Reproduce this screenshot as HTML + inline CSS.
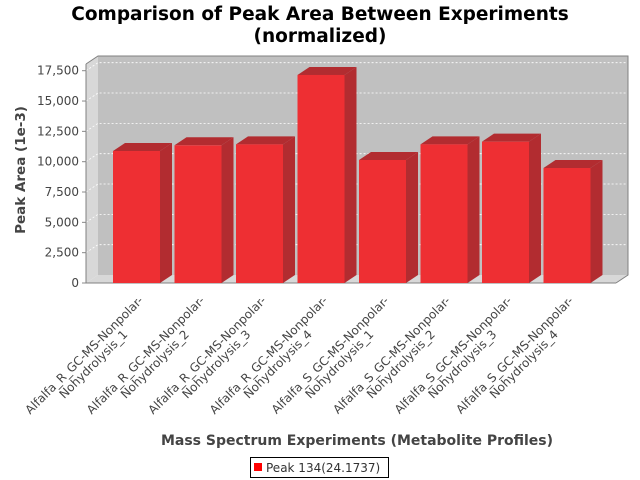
<!DOCTYPE html>
<html><head><meta charset="utf-8"><style>
html,body{margin:0;padding:0;background:#fff;}
svg{display:block;font-family:"DejaVu Sans","Liberation Sans",sans-serif;}
</style></head><body>
<svg id="chart" width="640" height="480" viewBox="0 0 640 480">
<text x="320" y="20" text-anchor="middle" font-size="18.5" font-weight="bold" fill="#000">Comparison of Peak Area Between Experiments</text>
<text x="320" y="42" text-anchor="middle" font-size="18.5" font-weight="bold" fill="#000">(normalized)</text>
<g id="plot"></g>
<text transform="translate(25,170) rotate(-90)" text-anchor="middle" font-size="13.5" font-weight="bold" fill="#444">Peak Area (1e-3)</text>
<text x="357" y="445" text-anchor="middle" font-size="14" font-weight="bold" fill="#444">Mass Spectrum Experiments (Metabolite Profiles)</text>
<g>
<rect x="250.5" y="457.5" width="138" height="20" fill="#fff" stroke="#000"/>
<rect x="254" y="463" width="8" height="8" fill="#ff0000"/>
<text x="266" y="472" font-size="12" fill="#333">Peak 134(24.1737)</text>
</g>
</svg>
<script>
const categories = ["Alfalfa_R_GC-MS-Nonpolar-|Nohydrolysis_1","Alfalfa_R_GC-MS-Nonpolar-|Nohydrolysis_2","Alfalfa_R_GC-MS-Nonpolar-|Nohydrolysis_3","Alfalfa_R_GC-MS-Nonpolar-|Nohydrolysis_4","Alfalfa_S_GC-MS-Nonpolar-|Nohydrolysis_1","Alfalfa_S_GC-MS-Nonpolar-|Nohydrolysis_2","Alfalfa_S_GC-MS-Nonpolar-|Nohydrolysis_3","Alfalfa_S_GC-MS-Nonpolar-|Nohydrolysis_4"];
const values = [10880, 11350, 11430, 17150, 10140, 11430, 11650, 9480];
const ticks = [0, 2500, 5000, 7500, 10000, 12500, 15000, 17500];
const tickLabels = ["0","2,500","5,000","7,500","10,000","12,500","15,000","17,500"];

const NS = "http://www.w3.org/2000/svg";
const g = document.getElementById("plot");
const X0 = 86, X1 = 616, Y0 = 283, YTOP = 64, DX = 12, DY = -8;
const yMax = 17500, yMaxPx = 70.7;
function y(v){ return Y0 - v * (Y0 - yMaxPx) / yMax; }
const step = 61.5, firstLeft = 113, barW = 47;
function xLeft(i){ return firstLeft + i * step; }
function mk(tag, attrs){ const e = document.createElementNS(NS, tag); for (const k in attrs) e.setAttribute(k, attrs[k]); g.appendChild(e); return e; }

let e;
e = mk("polygon", {points:`${X0},${YTOP} ${X0+DX},${YTOP+DY} ${X0+DX},${Y0+DY} ${X0},${Y0}`, fill:"#d8d8d8"});


e = mk("polygon", {points:`${X0},${Y0} ${X0+DX},${Y0+DY} ${X1+DX},${Y0+DY} ${X1},${Y0}`, fill:"#d8d8d8"});


e = mk("rect", {x:X0+DX, y:YTOP+DY, width:X1-X0, height:Y0-YTOP, fill:"#c0c0c0"});



ticks.forEach((t, i) => {
  const yy = y(t);
  if (t > 0) {
    e = mk("polyline", {points:`${X0},${yy} ${X0+DX},${yy+DY} ${X1+DX},${yy+DY}`, fill:"none", stroke:"#ffffff", "stroke-width":0.8, "stroke-dasharray":"2,2"});
    
    
  }
  e = mk("line", {x1:X0-4, y1:yy, x2:X0, y2:yy, stroke:"#888"});
  
  
  e = mk("text", {x:X0-7, y:yy+4, "text-anchor":"end", "font-size":12, fill:"#444"});
  e.textContent = tickLabels[i];
  
  
});

e = mk("polyline", {points:`${X0},${YTOP} ${X0+DX},${YTOP+DY} ${X1+DX},${YTOP+DY} ${X1+DX},${Y0+DY} ${X1},${Y0}`, fill:"none", stroke:"#808080"});


e = mk("polyline", {points:`${X0},${YTOP} ${X0},${Y0} ${X1},${Y0}`, fill:"none", stroke:"#808080"});



values.forEach((v, i) => {
  const xl = xLeft(i), xr = xl + barW, yt = y(v);
  e = mk("polygon", {points:`${xr},${yt} ${xr+DX},${yt+DY} ${xr+DX},${Y0+DY} ${xr},${Y0}`, fill:"#b22c30"});
  
  
  e = mk("polygon", {points:`${xl},${yt} ${xl+DX},${yt+DY} ${xr+DX},${yt+DY} ${xr},${yt}`, fill:"#b22c30"});
  
  
  e = mk("rect", {x:xl, y:yt, width:barW, height:Y0-yt, fill:"#ee2f33"});
  
  

  const parts = categories[i].split("|");
  const ex = xl + barW/2 + 8.5, ey = 300;
  const lg = document.createElementNS(NS, "g");
  lg.setAttribute("transform", `translate(${ex},${ey}) rotate(-45)`);
  
  
  g.appendChild(lg);
  parts.forEach((p, j) => {
    const t = document.createElementNS(NS, "text");
    t.setAttribute("x", -82); t.setAttribute("y", j * 13);
    t.setAttribute("text-anchor", "middle");
    t.setAttribute("font-size", "12");
    t.setAttribute("fill", "#444");
    t.textContent = p;
    
    
    lg.appendChild(t);
  });
});
</script>
</body></html>
